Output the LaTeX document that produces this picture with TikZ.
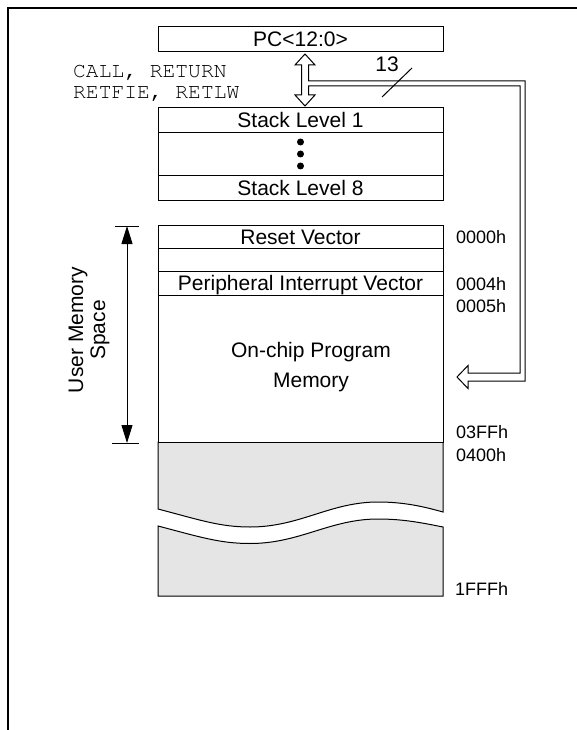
\documentclass[tikz,border=0pt]{standalone}
\usepackage[T1,TU]{fontenc}
\usepackage{fontspec}
\setmainfont{Liberation Sans}
\setmonofont{Liberation Mono}
\usetikzlibrary{arrows.meta}
\begin{document}
\begin{tikzpicture}[x=1pt,y=-1pt,
  box/.style={draw, line width=1pt, fill=white, rectangle, inner sep=0pt, outer sep=0pt,
    minimum width=285pt, font=\fontsize{21}{22}\selectfont, text height=15pt, text depth=0pt},
  lbl/.style={font=\fontsize{21}{22}\selectfont, inner sep=0pt, anchor=base},
  addr/.style={font=\fontsize{18}{20}\selectfont, inner sep=0pt, anchor=base west},
  mono/.style={font=\fontencoding{T1}\fontfamily{pcr}\fontsize{21.3}{22}\selectfont, inner sep=0pt, anchor=base west},
  tipA/.tip={Triangle[length=18pt,width=11pt]}]
\useasboundingbox (0,0) rectangle (577,730);
% frame
\draw[line width=2pt] (8,730) -- (8,8) -- (577,8);
% gray unimplemented memory
\filldraw[fill=gray!20, line width=1pt] (158,442) -- (158,509) .. controls (200,520) and (220,527) .. (250,527)
  .. controls (300,527) and (330,502) .. (378,502) .. controls (405,502) and (425,507) .. (443,512) -- (443,442) -- cycle;
\filldraw[fill=gray!20, line width=1pt] (158,526) .. controls (200,537) and (220,543.5) .. (250,543.5)
  .. controls (300,543.5) and (330,519) .. (378,519) .. controls (405,519) and (425,523.5) .. (443,527)
  -- (443,596) -- (158,596) -- cycle;
% PC and stack
\node[box, minimum height=25pt] (pc) at (300.5,39.5) {PC<12:0>};
\node[box, minimum height=24.7pt] (s1) at (300.5,120.35) {Stack Level 1};
\node[box, minimum height=43.3pt] (sd) at (300.5,154.35) {};
\node[box, minimum height=24pt] (s8) at (300.5,188) {Stack Level 8};
\foreach \yy in {142,154,166} \fill (300.5,\yy) circle (3.5pt);
% program memory
\node[box, minimum height=23.3pt] (rv) at (300.5,236.65) {Reset Vector};
\node[box, minimum height=22.7pt] (bl) at (300.5,259.65) {};
\node[box, minimum height=24pt] (piv) at (300.5,283) {Peripheral Interrupt Vector};
\node[box, minimum height=147pt] (ocm) at (300.5,368.5) {};
\node[lbl] (t1) at (311,357.5) {On-chip Program};
\node[lbl] (t2) at (311,387.5) {Memory};
% hollow bus arrows
\draw[line width=1pt, fill=white, line join=miter]
  (305,54) -- (315,65) -- (308.5,65) -- (308.5,81) -- (525,81) -- (525,381) -- (468,381)
  -- (468,388.5) -- (457,377) -- (468,365.5) -- (468,373) -- (520,373) -- (520,86)
  -- (308.5,86) -- (308.5,95) -- (315,95) -- (305,106) -- (295,95) -- (301.5,95)
  -- (301.5,65) -- (295,65) -- cycle;
\coordinate (sl1) at (382,97);
\coordinate (sl2) at (412,68);
\draw[line width=1pt] (sl1) -- (sl2);
\node[lbl] (n13) at (387,72) {13};
\node[mono] (c1) at (73,77.5) {CALL, RETURN};
\node[mono] (c2) at (73,99) {RETFIE, RETLW};
% addresses
\node[addr] (a0) at (456,243.5) {0000h};
\node[addr] (a4) at (456,290) {0004h};
\node[addr] (a5) at (456,312.7) {0005h};
\node[addr] (a3ff) at (456,438.3) {03FFh};
\node[addr] (a400) at (456,461.7) {0400h};
\node[addr] (a1fff) at (455,595) {1FFFh};
% user memory space
\coordinate (umt) at (127,226);
\coordinate (umb) at (127,443);
\draw[line width=1pt] (115,226) -- (139,226);
\draw[line width=1pt] (112,443) -- (139,443);
\draw[line width=1pt, tipA-tipA] (umt) -- (umb);
\node[lbl, rotate=90] (u1) at (83,330) {User Memory};
\node[lbl, rotate=90] (u2) at (105,330) {Space};
\end{tikzpicture}
\end{document}
